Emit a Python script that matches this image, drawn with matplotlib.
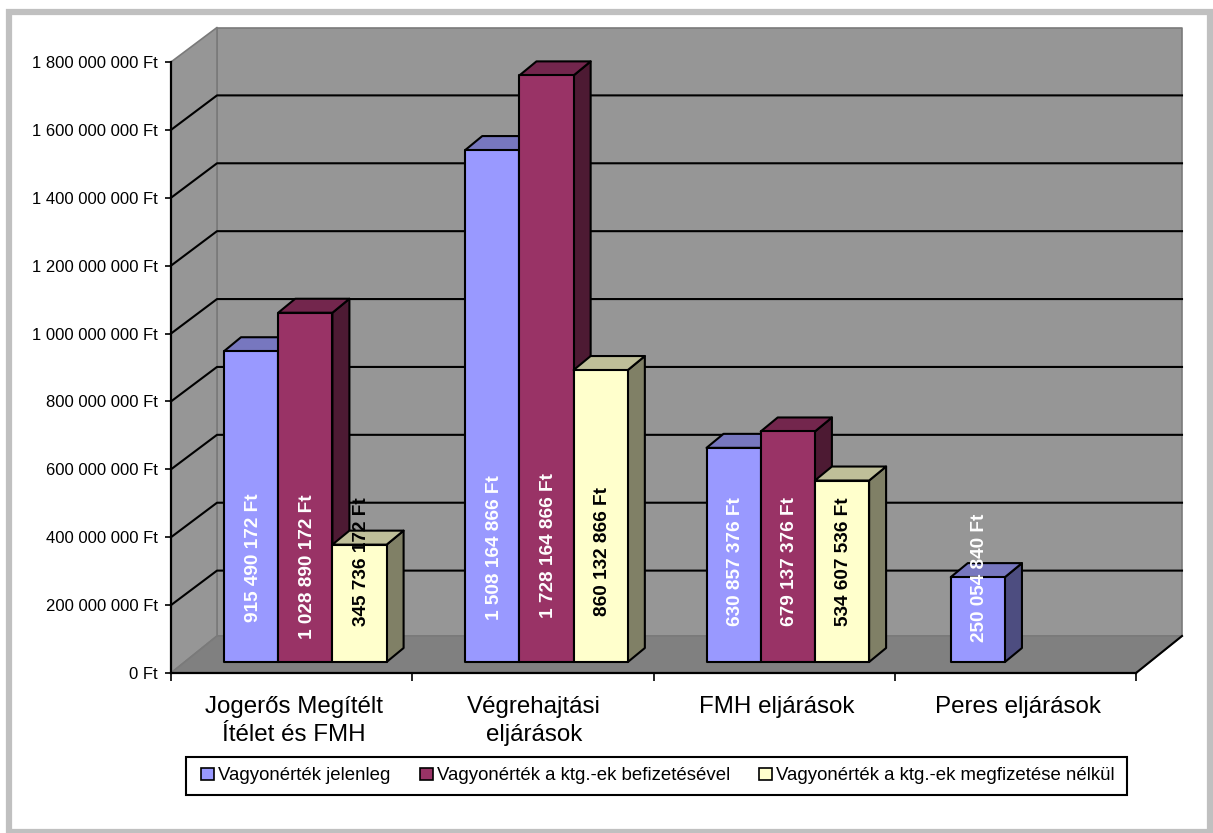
import matplotlib
matplotlib.use("Agg")
import matplotlib.pyplot as plt
from matplotlib.patches import Patch, Polygon, Rectangle

plt.rcParams['font.family'] = ['Liberation Sans', 'DejaVu Sans']

categories = ["Jogerős Megítélt\nÍtélet és FMH", "Végrehajtási\neljárások", "FMH eljárások", "Peres eljárások"]
series_names = ["Vagyonérték jelenleg", "Vagyonérték a ktg.-ek befizetésével", "Vagyonérték a ktg.-ek megfizetése nélkül"]
jelenleg = [915490172, 1508164866, 630857376, 250054840]
befizetessel = [1028890172, 1728164866, 679137376, None]
nelkul = [345736172, 860132866, 534607536, None]
y_ticks = [0, 200000000, 400000000, 600000000, 800000000, 1000000000,
           1200000000, 1400000000, 1600000000, 1800000000]

W, H = 1213, 833
YMAX = 1800000000
# plot box of the front plane, in pixels
LEFT, RIGHT, BOTTOM, TOP = 171, 1136, 673, 62
XPX = 4 / (RIGHT - LEFT)
YPX = YMAX / (BOTTOM - TOP)


def money(v):
    return f"{v:,}".replace(",", " ") + " Ft"


def ypx_to_data(y):
    return (BOTTOM - y) * YPX


def shade(pts, color, edge="black", lw=1.5, z=3):
    ax.add_patch(Polygon(pts, closed=True, facecolor=color, edgecolor=edge,
                         linewidth=lw, zorder=z, clip_on=False, joinstyle="round"))


fig = plt.figure(figsize=(W / 100, H / 100), dpi=100, facecolor="white")
ax = fig.add_axes([LEFT / W, 1 - BOTTOM / H, (RIGHT - LEFT) / W, (BOTTOM - TOP) / H])
ax.set_xlim(0, 4)
ax.set_ylim(0, YMAX)
ax.patch.set_visible(False)

# gray frame round the chart
fig.add_artist(Rectangle((9 / W, 1.5 / H), 1201 / W, 820 / H, transform=fig.transFigure,
                         facecolor="none", edgecolor="#C0C0C0", linewidth=4.5))

# walls and floor
wall_dx = 46 * XPX
wall_dy = 34.5 * YPX
floor_dy = 37 * YPX
wall_gray = "#969696"
line_gray = "#7A7A7A"
shade([(wall_dx, floor_dy), (4 + wall_dx, floor_dy), (4 + wall_dx, YMAX + wall_dy), (wall_dx, YMAX + wall_dy)],
      wall_gray, line_gray, 1.2, 1)
shade([(0, 0), (wall_dx, floor_dy), (wall_dx, YMAX + wall_dy), (0, YMAX)], wall_gray, line_gray, 1.2, 1)
for t in y_ticks[1:-1]:
    ax.plot([0, wall_dx, 4 + wall_dx], [t, t + wall_dy, t + wall_dy], color="black", lw=1.5,
            zorder=2, clip_on=False)
shade([(0, 0), (4, 0), (4 + wall_dx, floor_dy), (wall_dx, floor_dy)], "#808080", line_gray, 1.2, 2)
ax.plot([4, 4 + wall_dx], [0, floor_dy], color="black", lw=1.5, zorder=2, clip_on=False)

# bars
colors = [("#9999FF", "#7777BF", "#4D4D80"),
          ("#993366", "#73264D", "#4D1A33"),
          ("#FFFFCC", "#BFBF99", "#808066")]
text_colors = ["white", "white", "black"]
series = [jelenleg, befizetessel, nelkul]
bar_w = 54.2 * XPX
group_off = 53.5 * XPX
base = 11 * YPX
depth_x = 17 * XPX
depth_y = 14 * YPX
# centre of each data label, pixels from the top
label_ypx = [[558, 567, 562], [548, 546, 551], [562, 562, 562], [578, None, None]]

for i in range(len(categories)):
    # the last group sits a little further right in the reference
    off = group_off + (2.5 * XPX if i == 3 else -0.5 * XPX)
    for k, vals in enumerate(series):
        v = vals[i]
        if v is None:
            continue
        x0 = i + off + k * bar_w
        x1 = x0 + bar_w
        y1 = base + v
        front, top, side = colors[k]
        z = 3 + i + k * 0.1
        shade([(x1, base), (x1 + depth_x, base + depth_y), (x1 + depth_x, y1 + depth_y), (x1, y1)], side, z=z)
        shade([(x0, y1), (x1, y1), (x1 + depth_x, y1 + depth_y), (x0 + depth_x, y1 + depth_y)], top, z=z)
        shade([(x0, base), (x1, base), (x1, y1), (x0, y1)], front, z=z)
        xc = x0 + 0.5 * bar_w + 2 * XPX
        ax.text(xc, ypx_to_data(label_ypx[i][k]), money(v), rotation=90, ha="center", va="center",
                color=text_colors[k], fontsize=13.7, fontweight="bold", zorder=20, clip_on=False)

# axes
for s in ["top", "right"]:
    ax.spines[s].set_visible(False)
for s in ["left", "bottom"]:
    ax.spines[s].set_linewidth(1.6)
    ax.spines[s].set_zorder(15)
ax.set_yticks(y_ticks)
ax.set_yticklabels([money(t) for t in y_ticks], fontsize=12)
ax.tick_params(axis="y", length=6 * 0.72, width=1.2, pad=5)
ax.set_xticks([0, 1, 2, 3, 4])
ax.set_xticklabels([])
ax.set_xticks([0.51, 1.505, 2.51, 3.51], labels=categories, minor=True)
ax.tick_params(axis="x", which="major", length=8 * 0.72, width=1.2)
ax.tick_params(axis="x", which="minor", length=0, pad=16.5, labelsize=17.4)
for lab in ax.get_xticklabels(minor=True):
    lab.set_linespacing(1.33)

# legend, its box drawn separately because it is wider than the entries need
fig.add_artist(Rectangle((186 / W, 1 - 795 / H), 941 / W, 38 / H, transform=fig.transFigure,
                         facecolor="white", edgecolor="black", linewidth=1.5))
handles = [Patch(facecolor=c[0], edgecolor="black", linewidth=1.2) for c in colors]
leg = fig.legend(handles, series_names, ncol=3, loc="center", bbox_to_anchor=(658 / W, 1 - 776 / H),
                 fontsize=13.4, frameon=False, handlelength=0.72, handleheight=0.62,
                 handletextpad=0.22, columnspacing=1.54, borderpad=0, borderaxespad=0)
leg.set_zorder(30)

fig.savefig("out.png", dpi=100)
